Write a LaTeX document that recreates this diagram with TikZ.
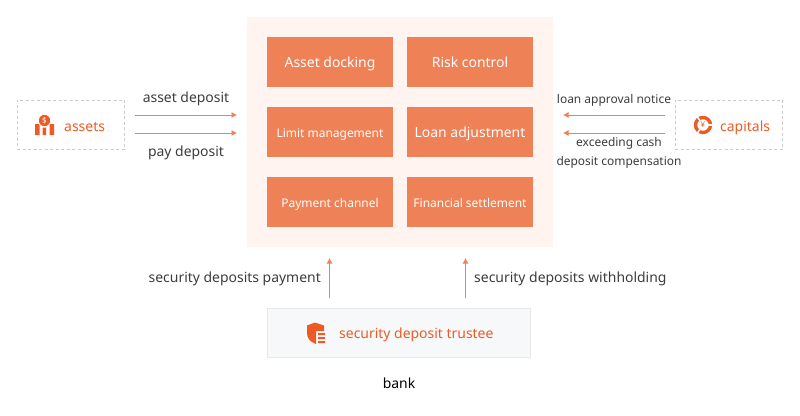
\documentclass[tikz,border=0pt]{standalone}
\usepackage{fontspec}
\setmainfont{Noto Sans}
\usetikzlibrary{arrows.meta}
\definecolor{tanbox}{HTML}{EF8156}
\definecolor{palebg}{HTML}{FFF4EF}
\definecolor{iconred}{HTML}{EE5A24}
\definecolor{inktext}{HTML}{3C3C3C}
\definecolor{trustbg}{HTML}{F7F8FA}
\definecolor{trustline}{HTML}{E6E8EA}
\tikzset{
  evenbox/.style={text height=13bp, text depth=1.6bp},
  modbox/.style={fill=tanbox, minimum width=126bp, minimum height=50bp, inner sep=0pt, text=white, evenbox, font=\fontsize{12}{14}\selectfont},
  modbig/.style={modbox, font=\fontsize{14}{16}\selectfont},
  flowlab/.style={text=inktext, inner sep=0pt, evenbox, font=\fontsize{14}{16}\selectfont},
  flowsmall/.style={flowlab, font=\fontsize{12}{14}\selectfont},
  actor/.style={draw=gray!40, line width=0.7bp, dash pattern=on 3bp off 2.5bp, minimum width=107.5bp, minimum height=49.5bp, inner sep=0pt},
  partyname/.style={text=iconred, inner sep=0pt, evenbox, font=\fontsize{14}{16}\selectfont},
  flow/.style={draw=tanbox, line width=0.8bp, -{Latex[length=5.5bp,width=6bp]}}
}
\begin{document}
\begin{tikzpicture}[x=1bp, y=-1bp, line cap=butt]
  \useasboundingbox (0,0) rectangle (800,415);
  % platform
  \node[fill=palebg, minimum width=306bp, minimum height=230bp, inner sep=0pt] (platform) at (400,132) {};
  \node[modbig] (docking) at (330,62) {Asset docking};
  \node[modbig] (risk) at (470,62) {Risk control};
  \node[modbox] (limit) at (330,132) {Limit management};
  \node[modbig] (adjust) at (470,132) {Loan adjustment};
  \node[modbox] (channel) at (330,202) {Payment channel};
  \node[modbox] (settle) at (470,202) {Financial settlement};
  % outer parties
  \node[actor] (assets) at (71,124.7) {};
  \node[actor] (capitals) at (729,124.7) {};
  \node[draw=trustline, fill=trustbg, line width=0.7bp, minimum width=263.5bp, minimum height=49bp, inner sep=0pt] (trustee) at (399,332.8) {};
  \node[partyname, anchor=west] (assetsname) at (64,125.3) {assets};
  \node[partyname, anchor=west] (capitalsname) at (720,125.3) {capitals};
  \node[partyname, anchor=west] (trusteename) at (339,332.6) {security deposit trustee};
  \node[flowlab, text=black] (bank) at (399,383) {bank};
  % icons
  \fill[iconred] (35,124) rectangle (39.5,135) (42.5,127.5) rectangle (46,135) (49.5,124) rectangle (54,135);
  \fill[iconred, draw=white, line width=0.8bp] (44.5,120.5) circle (6.2);
  \node[text=white, inner sep=0pt, font=\fontsize{8}{8}\selectfont] (dollar) at (44.5,120.5) {\$};
  \draw[iconred, line width=3.4bp] (703,125) circle (7.5);
  \foreach \a in {0,125,235} \draw[white, line width=1.5bp] (703,125) ++(\a:5) -- ++(\a:5);
  \node[text=iconred, inner sep=0pt, font=\fontsize{8}{9}\selectfont] (yen) at (703,125) {¥};
  \fill[iconred] (307,325.5) -- (315,322.5) -- (324,325.5) -- (324,331) -- (316,331) -- (316,344) .. controls (310,342) and (307,338) .. (307,333) -- cycle;
  \fill[iconred] (318,333) rectangle (325,335) (318,337) rectangle (325,339) (318,341) rectangle (325,343);
  % coordinates for the flows
  \coordinate (a1) at (135,115); \coordinate (a2) at (237,115);
  \coordinate (b1) at (135,133); \coordinate (b2) at (237,133);
  \coordinate (c1) at (665,115); \coordinate (c2) at (563,115);
  \coordinate (d1) at (665,133); \coordinate (d2) at (563,133);
  \coordinate (e1) at (329.5,298); \coordinate (e2) at (329.5,258);
  \coordinate (f1) at (465.5,298); \coordinate (f2) at (465.5,258);
  \draw[flow] (a1) -- (a2);
  \draw[flow] (b1) -- (b2);
  \draw[flow] (c1) -- (c2);
  \draw[flow] (d1) -- (d2);
  \draw[flow] (e1) -- (e2);
  \draw[flow] (f1) -- (f2);
  % flow labels
  \node[flowlab] (assetdep) at (186,97) {asset deposit};
  \node[flowlab] (paydep) at (186,151) {pay deposit};
  \node[flowsmall] (approval) at (614,97.8) {loan approval notice};
  \node[flowsmall] (exceeding) at (619,140.5) {exceeding cash};
  \node[flowsmall] (compens) at (619,159.5) {deposit compensation};
  \node[flowlab, anchor=east] (secpay) at (321,277) {security deposits payment};
  \node[flowlab, anchor=west] (secwith) at (474,277) {security deposits withholding};
\end{tikzpicture}
\end{document}
